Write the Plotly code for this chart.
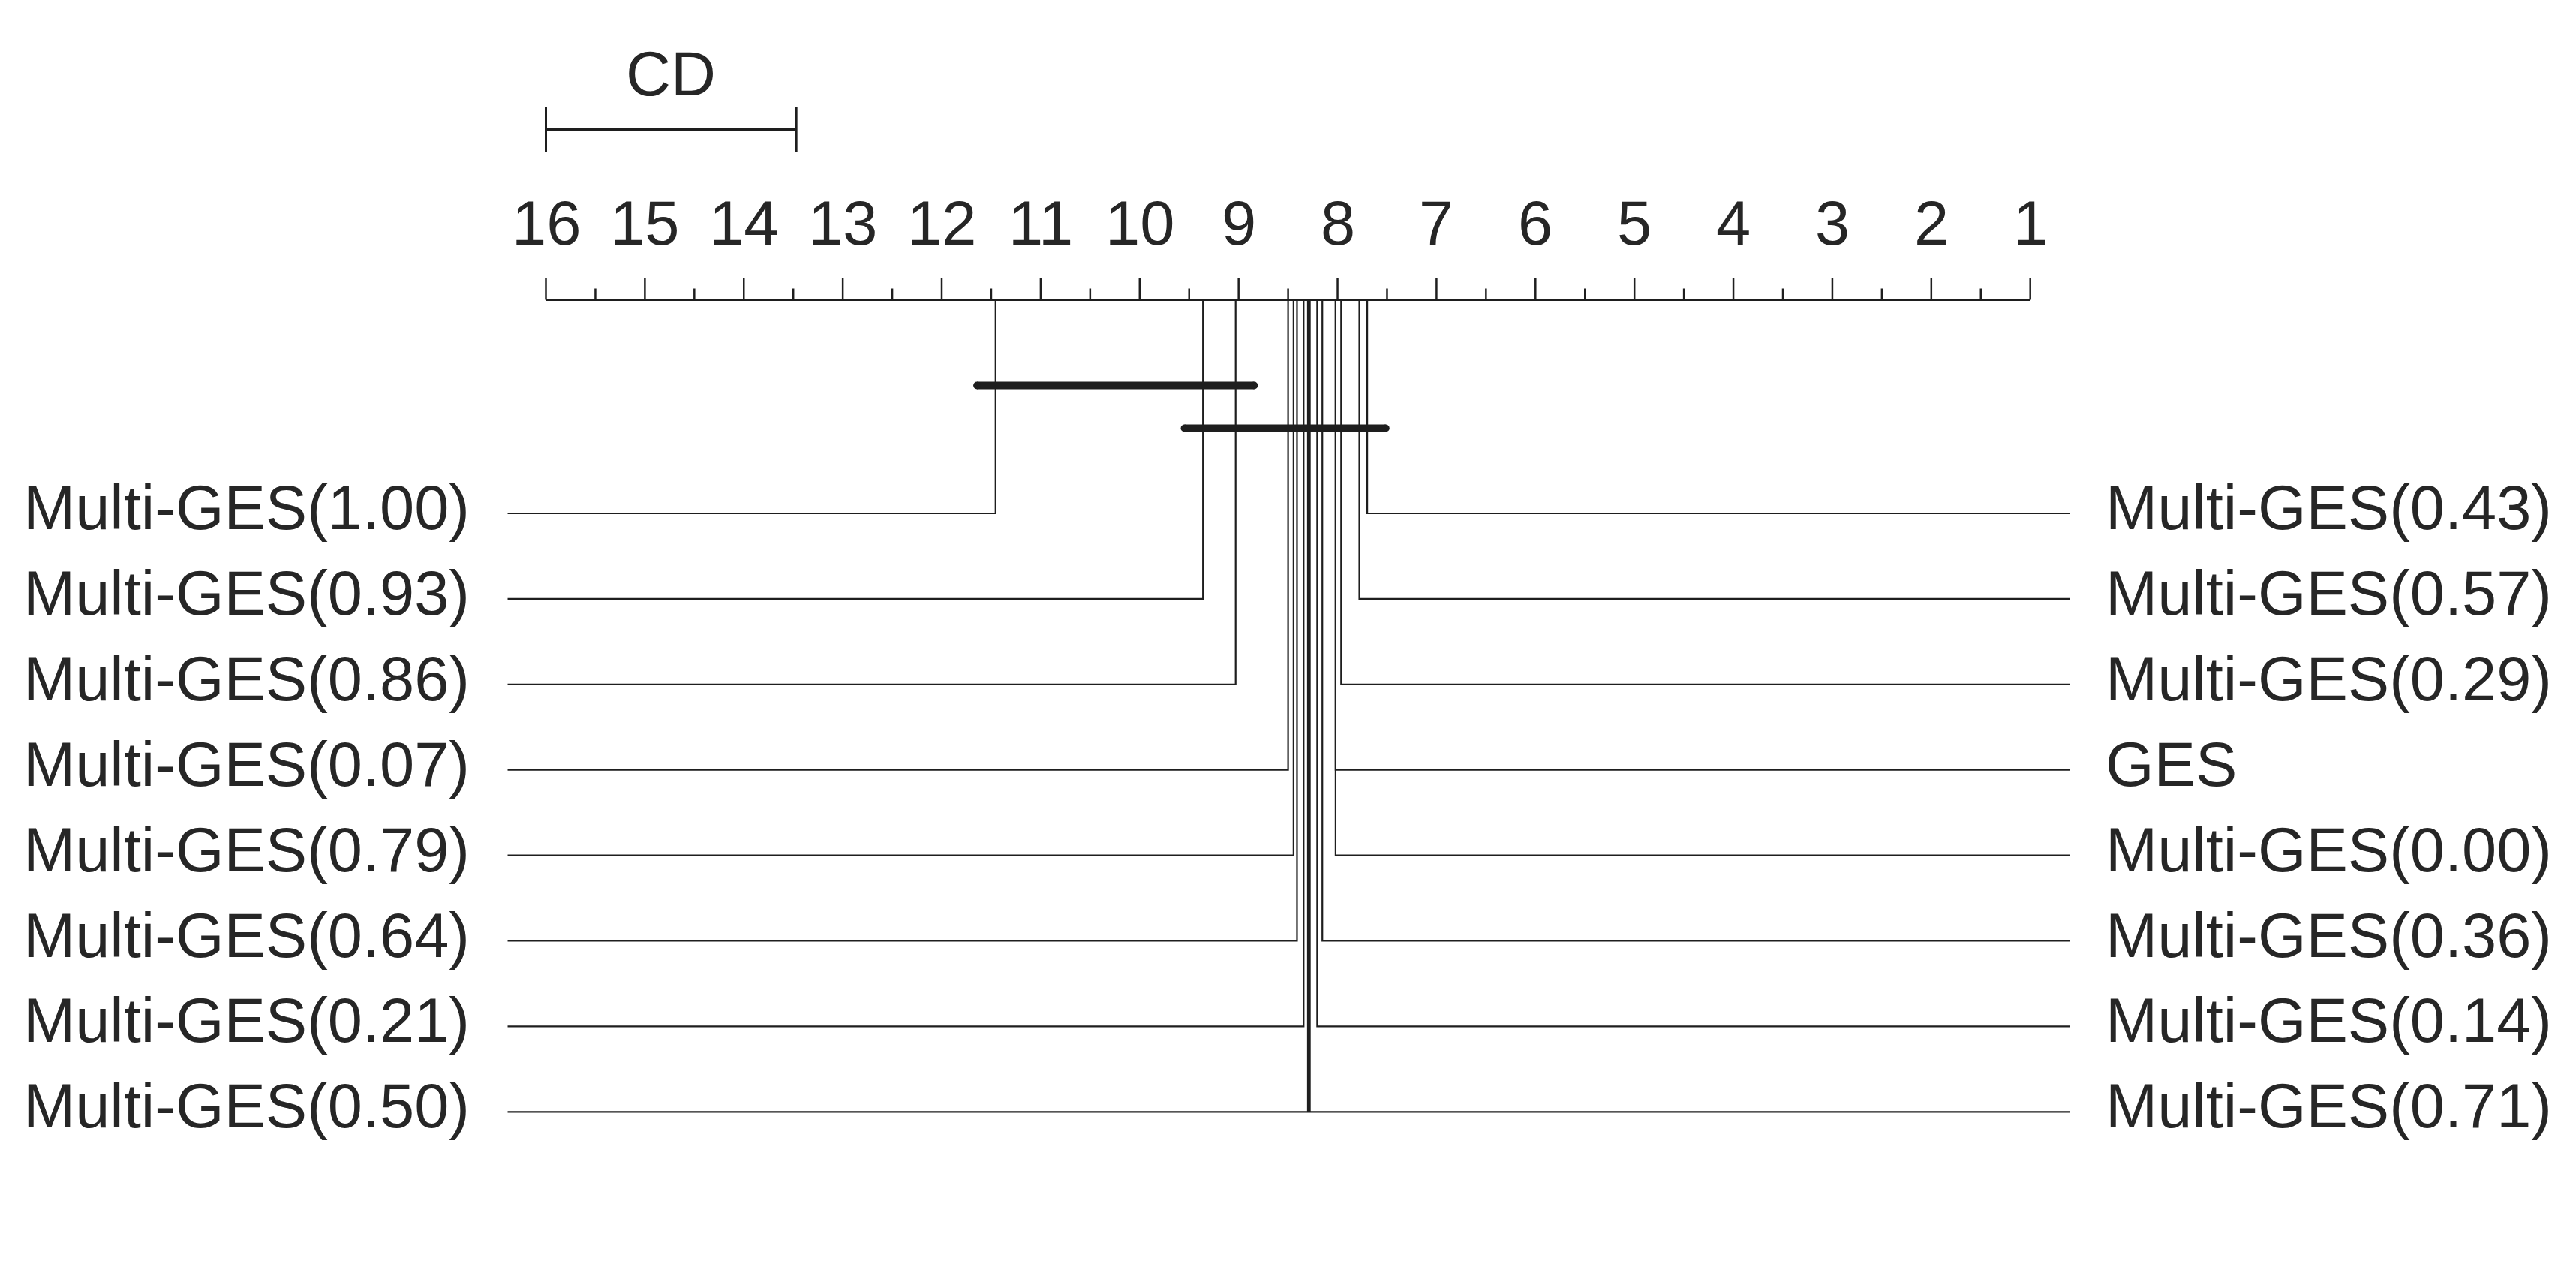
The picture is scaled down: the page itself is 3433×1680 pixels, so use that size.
import plotly.graph_objects as go

# ---------------- data ----------------
left_names = ["Multi-GES(1.00)", "Multi-GES(0.93)", "Multi-GES(0.86)", "Multi-GES(0.07)",
              "Multi-GES(0.79)", "Multi-GES(0.64)", "Multi-GES(0.21)", "Multi-GES(0.50)"]
left_ranks = [11.456, 9.36, 9.03, 8.50, 8.445, 8.41, 8.343, 8.30]

right_names = ["Multi-GES(0.43)", "Multi-GES(0.57)", "Multi-GES(0.29)", "GES",
               "Multi-GES(0.00)", "Multi-GES(0.36)", "Multi-GES(0.14)", "Multi-GES(0.71)"]
right_ranks = [7.70, 7.78, 7.964, 8.02, 8.02, 8.154, 8.206, 8.28]

cd_value = 2.53
rank_ticks = list(range(16, 0, -1))
tick_labels = [str(t) for t in rank_ticks]

# cliques (non-significantly different groups) as (worst rank, best rank)
clique_low = [11.456, 9.36]
clique_high = [9.03, 7.70]

# ---------------- layout constants ----------------
W, H = 3433, 1680
LINE = "#1e1e1e"
TEXT = "#262626"
FONT = "Liberation Sans, Arial, Helvetica, sans-serif"
FS = 83

px_per_rank = (2705.7 - 727.5) / 15.0
x_left_px = 727.5
r_at = lambda p: 16 - (p - x_left_px) / px_per_rank
xrange = [r_at(0), r_at(W)]

axis_y = 399.5
row0, row_step = 684.0, 113.9
left_end_r = r_at(676.5)
right_end_r = r_at(2758.5)
pad = 0.187
clique_y = [513.5, 570.5]

fig = go.Figure()
shapes = []
annotations = []

# main axis
shapes.append(dict(type="line", xref="x", yref="y", x0=max(rank_ticks), x1=min(rank_ticks),
                   y0=axis_y, y1=axis_y, line=dict(color=LINE, width=3)))
for t, lab in zip(rank_ticks, tick_labels):
    shapes.append(dict(type="line", xref="x", yref="y", x0=t, x1=t, y0=axis_y, y1=370.5,
                       line=dict(color=LINE, width=2.5)))
    annotations.append(dict(x=t, y=297, xref="x", yref="y", text=lab, showarrow=False,
                            xanchor="center", yanchor="middle",
                            font=dict(size=FS, color=TEXT, family=FONT)))
for t in rank_ticks[:-1]:
    h = t - 0.5
    shapes.append(dict(type="line", xref="x", yref="y", x0=h, x1=h, y0=axis_y, y1=384.5,
                       line=dict(color=LINE, width=2.5)))

# CD bar
cd_start = max(rank_ticks)
shapes.append(dict(type="line", xref="x", yref="y", x0=cd_start, x1=cd_start - cd_value,
                   y0=172.5, y1=172.5, line=dict(color=LINE, width=3)))
for xx in (cd_start, cd_start - cd_value):
    shapes.append(dict(type="line", xref="x", yref="y", x0=xx, x1=xx, y0=143, y1=202,
                       line=dict(color=LINE, width=3)))
annotations.append(dict(x=cd_start - cd_value / 2, y=98, xref="x", yref="y", text="CD",
                        showarrow=False, xanchor="center", yanchor="middle",
                        font=dict(size=FS, color=TEXT, family=FONT)))

# method lines
for i, (nm, r) in enumerate(zip(left_names, left_ranks)):
    y = row0 + i * row_step
    fig.add_trace(go.Scatter(x=[r, r, left_end_r], y=[axis_y, y, y], mode="lines",
                             line=dict(color=LINE, width=2.2), hoverinfo="skip", showlegend=False))
    annotations.append(dict(x=628 / W, y=y - 7.5, xref="paper", yref="y", text=nm,
                            showarrow=False, xanchor="right", yanchor="middle",
                            font=dict(size=FS, color=TEXT, family=FONT)))
for i, (nm, r) in enumerate(zip(right_names, right_ranks)):
    y = row0 + i * row_step
    fig.add_trace(go.Scatter(x=[r, r, right_end_r], y=[axis_y, y, y], mode="lines",
                             line=dict(color=LINE, width=2.2), hoverinfo="skip", showlegend=False))
    annotations.append(dict(x=2804 / W, y=y - 7.5, xref="paper", yref="y", text=nm,
                            showarrow=False, xanchor="left", yanchor="middle",
                            font=dict(size=FS, color=TEXT, family=FONT)))

# clique bars (round caps via end markers)
for lo, hi, cy in zip(clique_low, clique_high, clique_y):
    fig.add_trace(go.Scatter(x=[lo + pad, hi - pad], y=[cy, cy], mode="lines+markers",
                             line=dict(color=LINE, width=10),
                             marker=dict(color=LINE, size=10, line=dict(width=0)),
                             hoverinfo="skip", showlegend=False))

fig.update_layout(
    width=W, height=H,
    margin=dict(l=0, r=0, t=0, b=0),
    paper_bgcolor="white", plot_bgcolor="white",
    xaxis=dict(range=xrange, visible=False, fixedrange=True),
    yaxis=dict(range=[H, 0], visible=False, fixedrange=True),
    shapes=shapes, annotations=annotations, showlegend=False,
)

fig.write_html("out.html")
